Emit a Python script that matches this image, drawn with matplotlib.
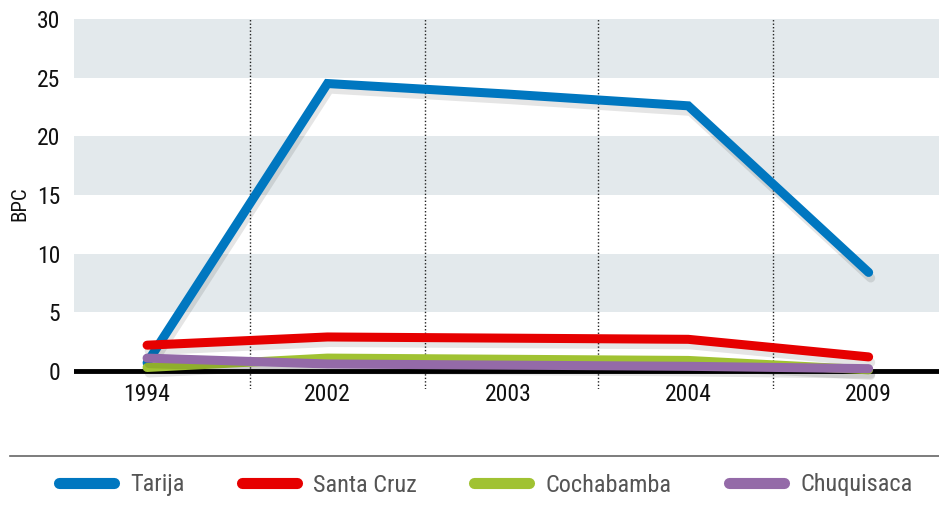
import matplotlib

matplotlib.use("Agg")
import matplotlib.pyplot as plt
import matplotlib.patheffects as pe
from matplotlib.lines import Line2D

years = ["1994", "2002", "2003", "2004", "2009"]
tarija = [0.7, 24.5, 23.6, 22.6, 8.4]
santa_cruz = [2.2, 2.9, 2.8, 2.7, 1.2]
cochabamba = [0.3, 1.1, 1.0, 0.9, 0.1]
chuquisaca = [1.1, 0.6, 0.5, 0.4, 0.2]

series = [
    ("Tarija", tarija, "#0077c0"),
    ("Santa Cruz", santa_cruz, "#e60000"),
    ("Cochabamba", cochabamba, "#a0c232"),
    ("Chuquisaca", chuquisaca, "#946aa8"),
]
separators = [0.57, 1.54, 2.5, 3.47]
yticks = [0, 5, 10, 15, 20, 25, 30]

plt.rcParams["font.family"] = ["Roboto Condensed", "DejaVu Sans"]

fig = plt.figure(figsize=(9.39, 5.07), dpi=100)
ax = fig.add_axes([74 / 939, (507 - 388.6) / 507, 865 / 939, 369.6 / 507])

x = list(range(len(years)))
ax.set_xlim(-0.405, 4.39)
ax.set_ylim(-1.5, 30)

# light horizontal stripes
for lo in (5, 15, 25):
    ax.axhspan(lo, lo + 5, color="#e3e9ec", lw=0, zorder=0)

for s in separators:
    ax.axvline(s, color="#222222", lw=1, ls=(0, (1, 1.5)), zorder=1)

ax.axhline(0, color="black", lw=3.5, zorder=2)

shadow = [pe.SimpleLineShadow(offset=(1.5, -4), shadow_color="black", alpha=0.1),
          pe.Normal()]
for i, (name, vals, col) in enumerate(series):
    ax.plot(x, vals, color=col, lw=6.5, solid_capstyle="round",
            solid_joinstyle="miter", zorder=3 + i, path_effects=shadow,
            clip_on=False)

for xi, lab in zip(x, years):
    ax.text(xi, -2.0, lab, ha="center", va="center", fontsize=17,
            color="#111111", clip_on=False)

ax.set_yticks(yticks)
ax.set_yticklabels([str(v) for v in yticks], fontsize=17, color="#111111")
ax.tick_params(axis="y", length=0, pad=10)
ax.set_xticks([])
for sp in ax.spines.values():
    sp.set_visible(False)
ax.set_ylabel("BPC", fontsize=15, color="#111111", labelpad=5)

# separator line above legend
fig.add_artist(Line2D([10 / 939, 1], [1 - 456 / 507] * 2, color="#666666", lw=1.2))

handles = [Line2D([], [], color=col, lw=8, solid_capstyle="round")
           for _, _, col in series]
leg = fig.legend(handles, [n for n, _, _ in series], loc="center left",
                 bbox_to_anchor=(59 / 939, 1 - 485 / 507), ncol=4, frameon=False,
                 fontsize=17.5, handlelength=2.26, columnspacing=2.35,
                 handletextpad=0.68, borderpad=0, borderaxespad=0)
for t in leg.get_texts():
    t.set_color("#555555")

fig.savefig("out.png", dpi=100)
